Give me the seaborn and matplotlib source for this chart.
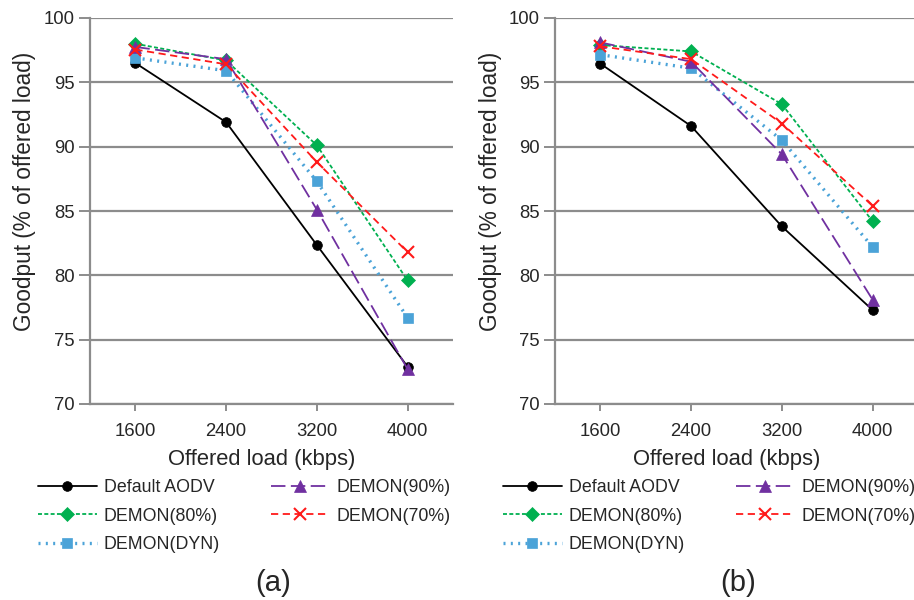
import numpy as np
import pandas as pd
import seaborn as sns
import matplotlib.pyplot as plt

loads = ["1600", "2400", "3200", "4000"]
series = ["Default AODV", "DEMON(80%)", "DEMON(DYN)", "DEMON(90%)", "DEMON(70%)"]

# panel (a)
a_default = [96.5, 91.9, 82.35, 72.9]
a_90 = [97.75, 96.8, 85.1, 72.7]
a_80 = [98.0, 96.7, 90.1, 79.6]
a_70 = [97.55, 96.4, 88.8, 81.8]
a_dyn = [96.9, 95.9, 87.3, 76.7]

# panel (b)
b_default = [96.45, 91.6, 83.8, 77.3]
b_90 = [98.1, 96.6, 89.4, 78.1]
b_80 = [97.9, 97.4, 93.3, 84.2]
b_70 = [97.8, 96.8, 91.8, 85.4]
b_dyn = [97.15, 96.1, 90.5, 82.2]

colors = {"Default AODV": "#000000", "DEMON(90%)": "#7030A0", "DEMON(80%)": "#00B050",
          "DEMON(70%)": "#FF1A1A", "DEMON(DYN)": "#4BA3D8"}
markers = {"Default AODV": "o", "DEMON(90%)": "^", "DEMON(80%)": "D",
           "DEMON(70%)": "x", "DEMON(DYN)": "s"}
dashes = {"Default AODV": "", "DEMON(90%)": (8, 3), "DEMON(80%)": (2.2, 1.3),
          "DEMON(70%)": (4, 2.5), "DEMON(DYN)": (0.6, 1.6)}
msize = {"Default AODV": 7, "DEMON(90%)": 8, "DEMON(80%)": 7,
         "DEMON(70%)": 8, "DEMON(DYN)": 7}


def make_df(d, n90, n80, n70, dyn):
    vals = {"Default AODV": d, "DEMON(80%)": n80, "DEMON(DYN)": dyn,
            "DEMON(90%)": n90, "DEMON(70%)": n70}
    rows = []
    for s in series:
        for i, l in enumerate(loads):
            rows.append({"load": l, "goodput": vals[s][i], "series": s})
    return pd.DataFrame(rows)


sns.set_style("white")
plt.rcParams["font.family"] = ["Liberation Sans", "DejaVu Sans"]

fig = plt.figure(figsize=(9.14, 6), dpi=100)
ax_a = fig.add_axes([90 / 914, 1 - 404 / 600, 363 / 914, 386 / 600])
ax_b = fig.add_axes([555 / 914, 1 - 404 / 600, 363 / 914, 386 / 600])

panels = [(ax_a, make_df(a_default, a_90, a_80, a_70, a_dyn), "(a)"),
          (ax_b, make_df(b_default, b_90, b_80, b_70, b_dyn), "(b)")]

for ax, df, tag in panels:
    ax.set_axisbelow(True)
    ax.yaxis.grid(True, color="#8c8c8c", lw=1.6)
    for s in series:
        sub = df[df["series"] == s]
        lw = 2.4 if s == "DEMON(DYN)" else 1.3
        sns.lineplot(data=sub, x="load", y="goodput", ax=ax, color=colors[s],
                     marker=markers[s], markersize=msize[s], lw=lw,
                     dashes=dashes[s] if dashes[s] else (None, None),
                     markeredgecolor=colors[s], markeredgewidth=1.5 if s == "DEMON(70%)" else 0.5,
                     label=s, legend=False)
    ax.set_ylim(70, 100)
    ax.set_yticks(range(70, 101, 5))
    ax.set_xlim(-0.5, 3.5)
    ax.set_xlabel("Offered load (kbps)", fontsize=15.8)
    ax.set_ylabel("Goodput (% of offered load)", fontsize=16.3)
    ax.xaxis.set_label_coords((262 - 90) / 363, (404 - 459) / 386)
    ax.xaxis.label.set_va("center")
    ax.yaxis.set_label_coords((25 - 90) / 363, (404 - 191) / 386)
    ax.yaxis.label.set_va("center")
    ax.tick_params(axis="y", labelsize=13.3, length=8, width=1.4, color="#8c8c8c",
                   direction="out", left=True, pad=3)
    ax.tick_params(axis="x", labelsize=13.3, length=5, width=1.4, color="#8c8c8c",
                   direction="out", bottom=True, pad=9)
    for sp in ["top", "right"]:
        ax.spines[sp].set_visible(False)
    for sp in ["left", "bottom"]:
        ax.spines[sp].set_color("#8c8c8c")
        ax.spines[sp].set_linewidth(1.6)

    handles, labels = ax.get_legend_handles_labels()
    order = [labels.index(s) for s in series]
    bb = ax.get_position()
    leg = fig.legend([handles[i] for i in order], [labels[i] for i in order],
                     ncol=2, frameon=False, fontsize=12.8, handlelength=3.3,
                     columnspacing=2.85, labelspacing=0.65, handletextpad=0.4,
                     loc="upper left",
                     bbox_to_anchor=(bb.x0 - 68 / 914, 1 - 463 / 600))
    fig.text(bb.x0 + 183 / 914, 1 - 583 / 600, tag, fontsize=21, ha="center", va="center")

fig.savefig("out.png", dpi=100)
